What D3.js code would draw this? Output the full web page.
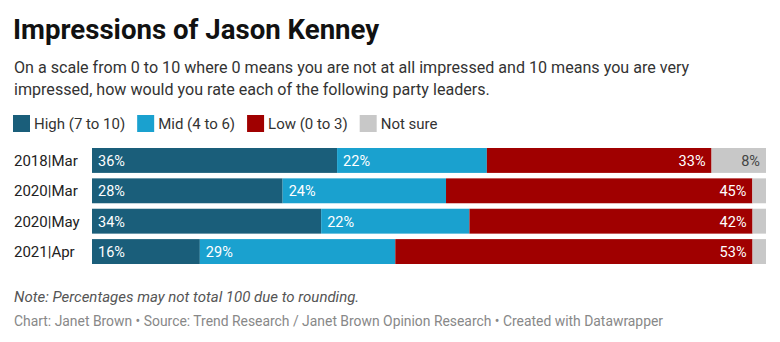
<!DOCTYPE html>
<html>
<head>
<meta charset="utf-8">
<script src="https://cdn.jsdelivr.net/npm/d3@7"></script>
<style>
  body { margin: 0; background: #fff; font-family: Roboto, "Noto Sans", sans-serif; }
</style>
</head>
<body>
<svg id="chart" width="780" height="342"></svg>
<script>
const periods = ['2018|Mar', '2020|Mar', '2020|May', '2021|Apr'];
const high = [36, 28, 34, 16];
const mid = [22, 24, 22, 29];
const low = [33, 45, 42, 53];
const notSure = [8, 2, 2, 2];

const seriesNames = ['High (7 to 10)', 'Mid (4 to 6)', 'Low (0 to 3)', 'Not sure'];
const seriesColors = ['#1a5e7a', '#1aa1cf', '#a00000', '#c8c8c8'];
const keys = ['high', 'mid', 'low', 'notSure'];

// each row is shown as share of its own total
const rows = periods.map((p, i) => ({
    period: p, high: high[i], mid: mid[i], low: low[i], notSure: notSure[i],
}));

const svg = d3.select('#chart');

svg.append('text')
    .attr('x', 13).attr('y', 39)
    .attr('font-size', 27.6).attr('font-weight', 700)
    .attr('fill', '#111')
    .text('Impressions of Jason Kenney');

const sub = svg.append('text')
    .attr('font-size', 16.1).attr('fill', '#333');
sub.append('tspan').attr('x', 14).attr('y', 73)
    .text('On a scale from 0 to 10 where 0 means you are not at all impressed and 10 means you are very');
sub.append('tspan').attr('x', 14).attr('y', 95)
    .text('impressed, how would you rate each of the following party leaders.');

// legend
let lx = 13;
seriesNames.forEach((name, i) => {
    const g = svg.append('g').attr('transform', `translate(${lx}, 115)`);
    g.append('rect').attr('width', 17).attr('height', 17).attr('fill', seriesColors[i]);
    const t = g.append('text')
        .attr('x', 21).attr('y', 14)
        .attr('font-size', 15).attr('fill', '#333')
        .text(name);
    lx += 21 + t.node().getComputedTextLength() + 12;
});

const x = d3.scaleLinear().domain([0, 1]).range([92, 766]);
const y = d3.scaleBand().domain(periods).range([148, 264]).paddingInner(0.18).paddingOuter(0);

const stack = d3.stack().keys(keys).offset(d3.stackOffsetExpand);
const layers = stack(rows);

svg.append('g').selectAll('text')
    .data(periods)
    .enter()
    .append('text')
    .attr('x', 14)
    .attr('y', (d) => y(d) + y.bandwidth() / 2 + 5.5)
    .attr('font-size', 15).attr('fill', '#222')
    .text((d) => d);

layers.forEach((layer, li) => {
    const g = svg.append('g');
    g.selectAll('rect')
        .data(layer)
        .enter()
        .append('rect')
        .attr('x', (d) => x(d[0]))
        .attr('y', (d) => y(d.data.period))
        .attr('width', (d) => x(d[1]) - x(d[0]))
        .attr('height', y.bandwidth())
        .attr('fill', seriesColors[li]);

    // value labels; low is right-aligned, not sure only where it fits
    g.selectAll('text')
        .data(layer.filter((d) => d.data[layer.key] >= 5))
        .enter()
        .append('text')
        .attr('x', (d) => (li >= 2 ? x(d[1]) - 6 : x(d[0]) + 6))
        .attr('y', (d) => y(d.data.period) + y.bandwidth() / 2 + 5.5)
        .attr('text-anchor', li >= 2 ? 'end' : 'start')
        .attr('font-size', 14.5)
        .attr('fill', li === 3 ? '#444' : '#fff')
        .text((d) => d.data[layer.key] + '%');
});

svg.append('text')
    .attr('x', 14).attr('y', 302)
    .attr('font-size', 15).attr('font-style', 'italic').attr('fill', '#555')
    .text('Note: Percentages may not total 100 due to rounding.');

svg.append('text')
    .attr('x', 14).attr('y', 325.5)
    .attr('font-size', 13.9).attr('fill', '#888')
    .text('Chart: Janet Brown • Source: Trend Research / Janet Brown Opinion Research • Created with Datawrapper');
</script>
</body>
</html>
